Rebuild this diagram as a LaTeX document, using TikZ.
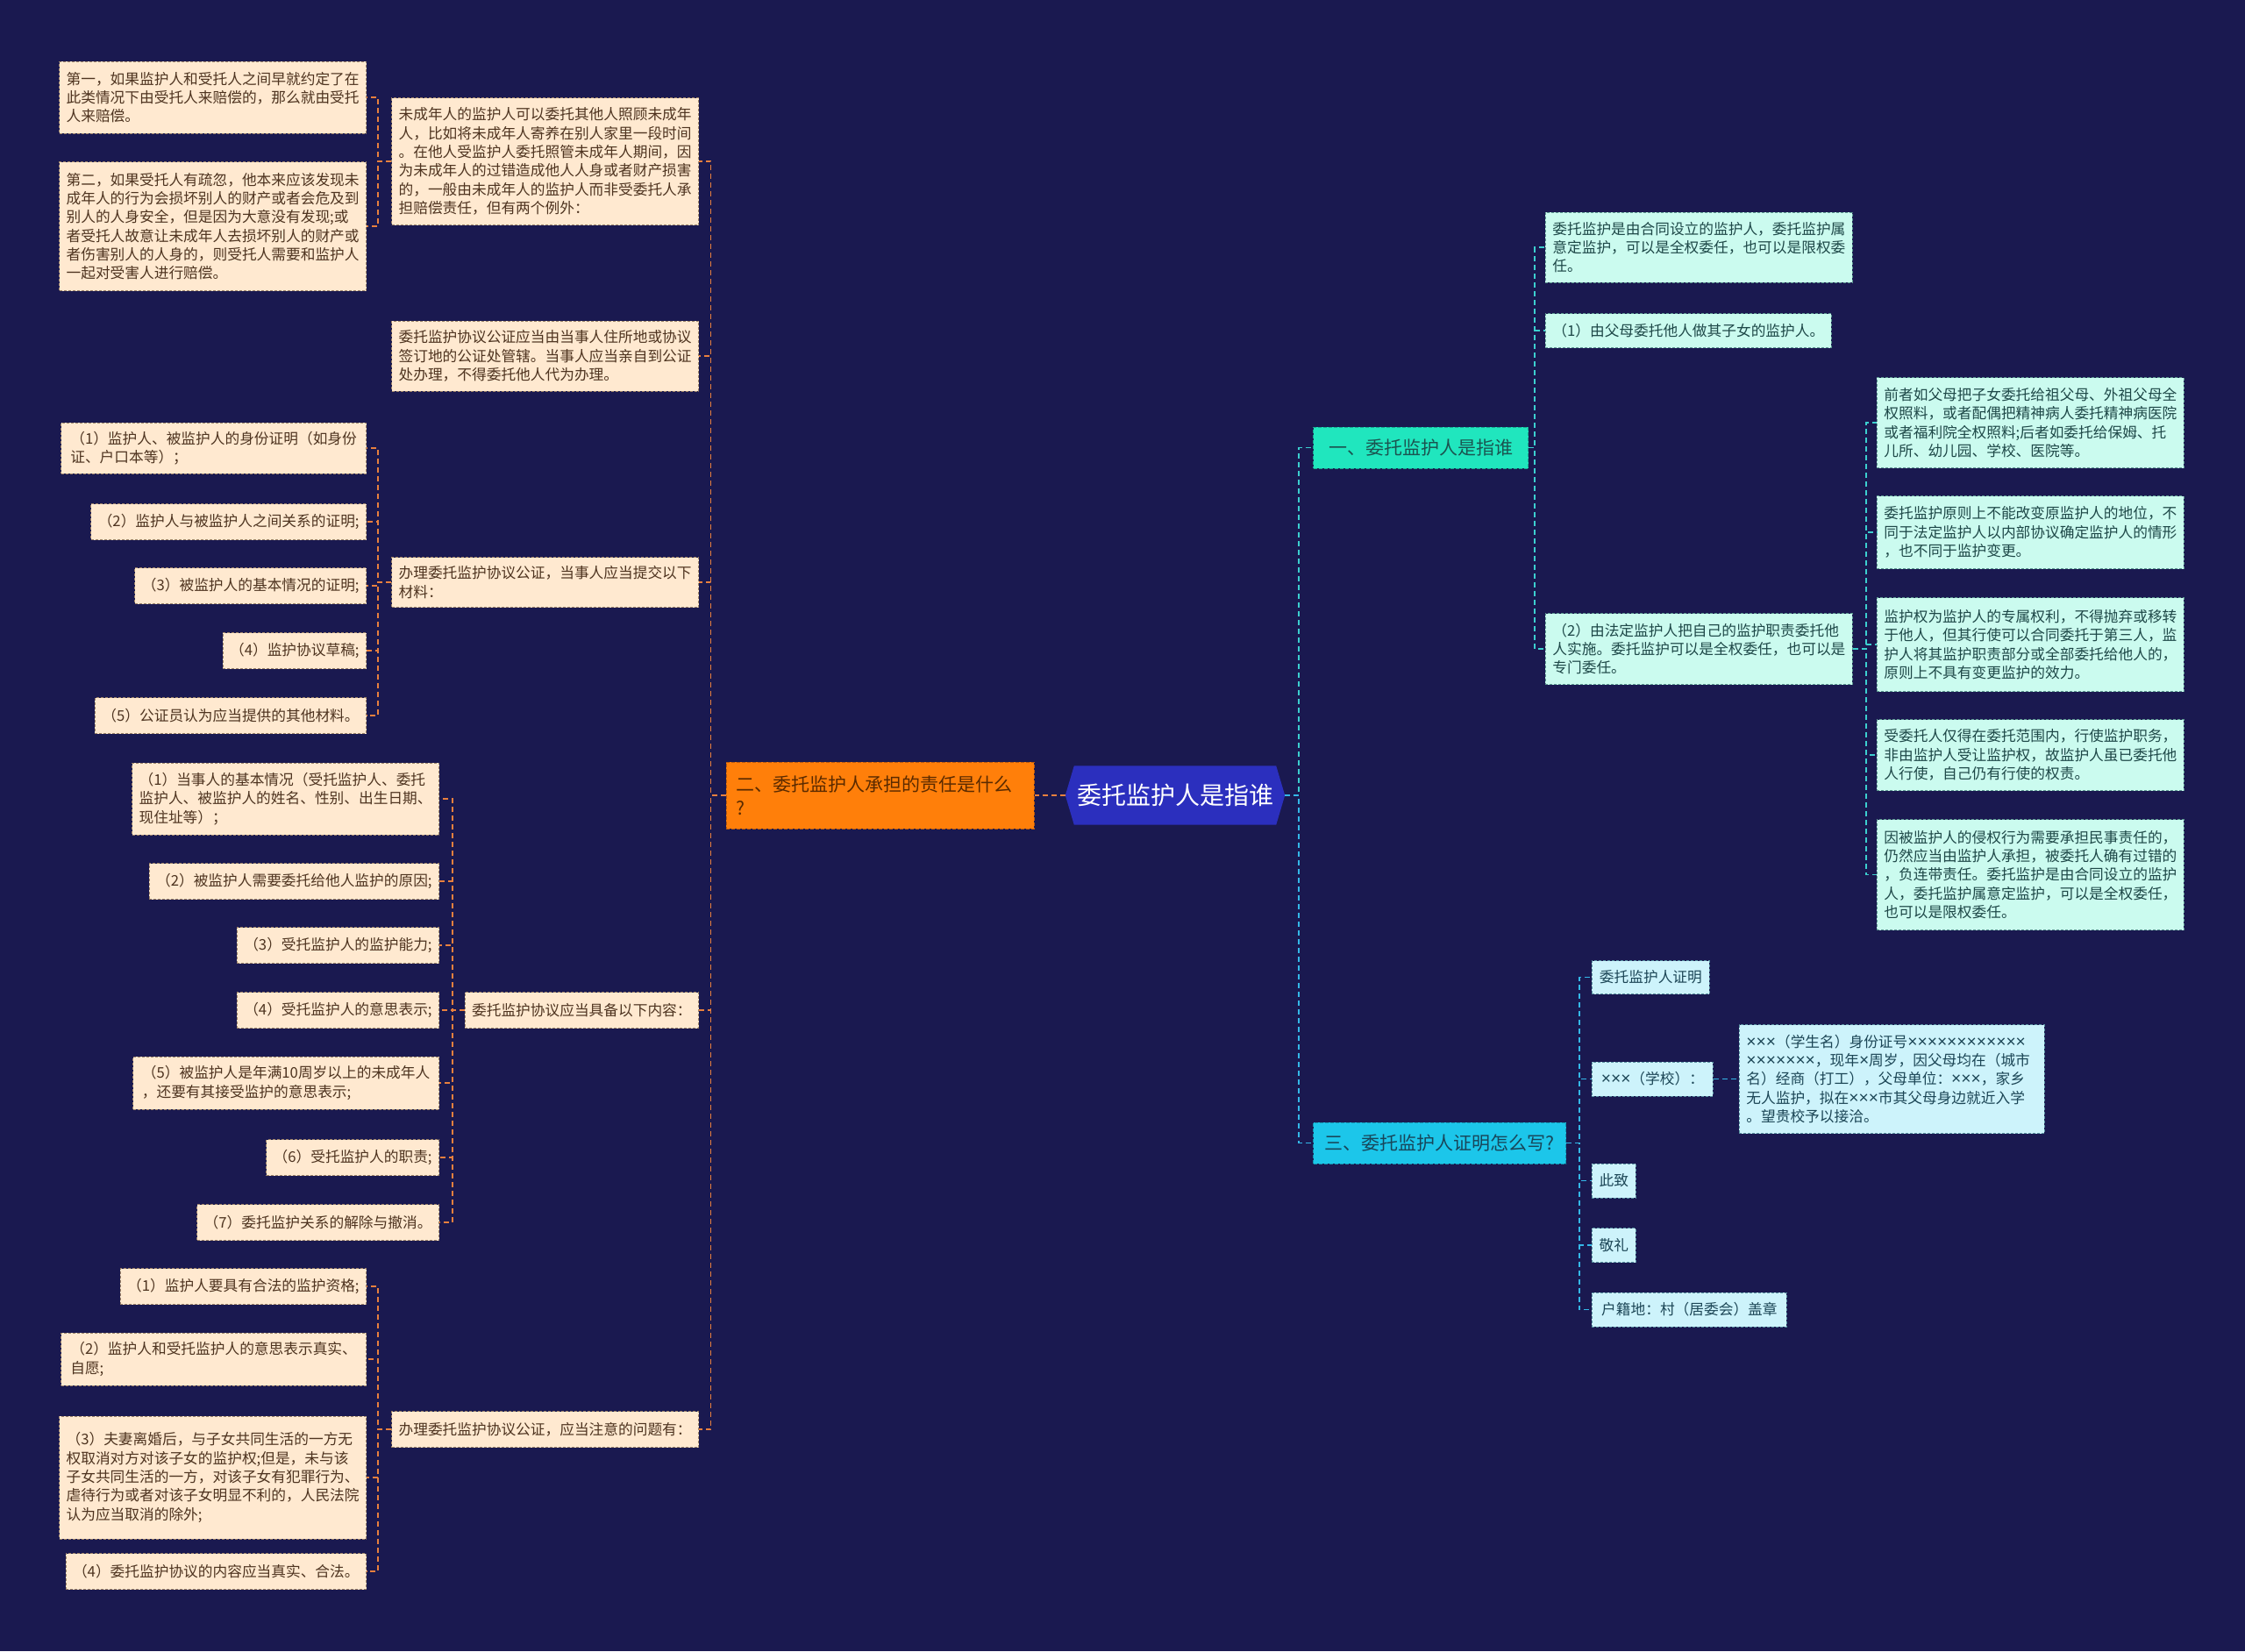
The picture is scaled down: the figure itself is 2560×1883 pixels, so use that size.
\documentclass[tikz,border=0pt]{standalone}
\usepackage{fontspec}
\setmainfont{Noto Sans CJK SC}
\newfontfamily\xfont[Scale=1.15]{Liberation Sans}
\newcommand{\xx}{{\xfont ×}}
\usetikzlibrary{backgrounds}
\definecolor{bgc}{HTML}{1A1950}
\definecolor{cream}{HTML}{FFE9D0}
\definecolor{creamtxt}{HTML}{4E3420}
\definecolor{creambd}{HTML}{9C8268}
\definecolor{mint}{HTML}{CBFBEF}
\definecolor{minttxt}{HTML}{1E4848}
\definecolor{mintbd}{HTML}{5C9890}
\definecolor{skyl}{HTML}{CDF3FB}
\definecolor{skytxt}{HTML}{1C4656}
\definecolor{skybd}{HTML}{5890A0}
\definecolor{orangec}{HTML}{FF7F0A}
\definecolor{orangebd}{HTML}{B85A10}
\definecolor{orangetxt}{HTML}{5A2A00}
\definecolor{tealc}{HTML}{20E6BE}
\definecolor{tealbd}{HTML}{18A890}
\definecolor{tealtxt}{HTML}{1B5450}
\definecolor{cyanc}{HTML}{1CC6EA}
\definecolor{cyanbd}{HTML}{1494B0}
\definecolor{cyantxt}{HTML}{18465A}
\definecolor{centerc}{HTML}{2B2FBE}
\definecolor{lline}{HTML}{E8803E}
\definecolor{tline}{HTML}{3CCFCF}
\definecolor{cline}{HTML}{34B8E8}
\begin{document}
\begin{tikzpicture}[x=1pt,y=-1pt,
  sz/.style 2 args={minimum width=#1pt, minimum height=#2pt},
  base/.style={rectangle, inner xsep=8pt, inner ysep=5pt, align=left, line width=0.8pt,
    dash pattern=on 3pt off 2pt, font=\fontsize{16.7pt}{21.3pt}\selectfont},
  leafL/.style={base, fill=cream, draw=creambd, text=creamtxt},
  leafM/.style={base, fill=mint, draw=mintbd, text=minttxt},
  leafS/.style={base, fill=skyl, draw=skybd, text=skytxt},
  lvl/.style={rectangle, inner xsep=10pt, inner ysep=5pt, align=left, line width=1pt,
    dash pattern=on 4pt off 2pt, font=\fontsize{21pt}{27pt}\selectfont},
  centerbox/.style={rectangle, inner sep=0pt, text=white, font=\fontsize{28pt}{34pt}\selectfont},
  lc/.style={draw=lline, line width=1.8pt, dash pattern=on 6pt off 4pt},
  tc/.style={draw=tline, line width=1.8pt, dash pattern=on 6pt off 4pt},
  cc/.style={draw=cline, line width=1.8pt, dash pattern=on 6pt off 4pt}
]
\useasboundingbox (0,0) rectangle (2560,1883);

% central
\node[centerbox, sz={250}{67}] (C) at (1340,907) {委托监护人是指谁};
\node[lvl, fill=orangec, draw=orangebd, text=orangetxt, sz={351}{76}, text width=329pt] (O) at (1003.5,907) {二、委托监护人承担的责任是什么\\?};

% left level 2
\node[leafL, sz={348}{145}, anchor=east] (L1) at (797,184) {未成年人的监护人可以委托其他人照顾未成年\\人，比如将未成年人寄养在别人家里一段时间\\。在他人受监护人委托照管未成年人期间，因\\为未成年人的过错造成他人人身或者财产损害\\的，一般由未成年人的监护人而非受委托人承\\担赔偿责任，但有两个例外：};
\node[leafL, sz={348}{80}, anchor=east] (L2) at (797,406) {委托监护协议公证应当由当事人住所地或协议\\签订地的公证处管辖。当事人应当亲自到公证\\处办理，不得委托他人代为办理。};
\node[leafL, sz={348}{57}, anchor=east] (L3) at (797,664) {办理委托监护协议公证，当事人应当提交以下\\材料：};
\node[leafL, sz={265}{41}, anchor=east] (L4) at (797,1152) {委托监护协议应当具备以下内容：};
\node[leafL, sz={348}{41}, anchor=east] (L5) at (797,1630) {办理委托监护协议公证，应当注意的问题有：};

% L1 children
\node[leafL, sz={348}{82}, anchor=east] (L1a) at (418,111) {第一，如果监护人和受托人之间早就约定了在\\此类情况下由受托人来赔偿的，那么就由受托\\人来赔偿。};
\node[leafL, sz={348}{147}, anchor=east] (L1b) at (418,258) {第二，如果受托人有疏忽，他本来应该发现未\\成年人的行为会损坏别人的财产或者会危及到\\别人的人身安全，但是因为大意没有发现;或\\者受托人故意让未成年人去损坏别人的财产或\\者伤害别人的人身的，则受托人需要和监护人\\一起对受害人进行赔偿。};

% L3 children
\node[leafL, sz={348}{58}, anchor=east] (L3a) at (418,511) {（1）监护人、被监护人的身份证明（如身份\\证、户口本等）；};
\node[leafL, sz={312}{41}, anchor=east] (L3b) at (418,595) {（2）监护人与被监护人之间关系的证明;};
\node[leafL, sz={261}{41}, anchor=east] (L3c) at (418,668) {（3）被监护人的基本情况的证明;};
\node[leafL, sz={162}{41}, anchor=east] (L3d) at (418,742) {（4）监护协议草稿;};
\node[leafL, sz={309}{41}, anchor=east] (L3e) at (418,816) {（5）公证员认为应当提供的其他材料。};

% L4 children
\node[leafL, sz={349}{82}, anchor=east] (L4a) at (501,911) {（1）当事人的基本情况（受托监护人、委托\\监护人、被监护人的姓名、性别、出生日期、\\现住址等）；};
\node[leafL, sz={328}{41}, anchor=east] (L4b) at (501,1005) {（2）被监护人需要委托给他人监护的原因;};
\node[leafL, sz={230}{41}, anchor=east] (L4c) at (501,1078) {（3）受托监护人的监护能力;};
\node[leafL, sz={230}{41}, anchor=east] (L4d) at (501,1152) {（4）受托监护人的意思表示;};
\node[leafL, sz={349}{60}, anchor=east] (L4e) at (501,1235) {（5）被监护人是年满10周岁以上的未成年人\\，还要有其接受监护的意思表示;};
\node[leafL, sz={196}{41}, anchor=east] (L4f) at (501,1320) {（6）受托监护人的职责;};
\node[leafL, sz={276}{41}, anchor=east] (L4g) at (501,1394) {（7）委托监护关系的解除与撤消。};

% L5 children
\node[leafL, sz={278}{41}, anchor=east] (L5a) at (418,1467) {（1）监护人要具有合法的监护资格;};
\node[leafL, sz={348}{60}, anchor=east] (L5b) at (418,1550) {（2）监护人和受托监护人的意思表示真实、\\自愿;};
\node[leafL, sz={348}{140}, anchor=east] (L5c) at (418,1685) {（3）夫妻离婚后，与子女共同生活的一方无\\权取消对方对该子女的监护权;但是，未与该\\子女共同生活的一方，对该子女有犯罪行为、\\虐待行为或者对该子女明显不利的，人民法院\\认为应当取消的除外;};
\node[leafL, sz={341}{41}, anchor=east] (L5d) at (418,1792) {（4）委托监护协议的内容应当真实、合法。};

% right level 1
\node[lvl, fill=tealc, draw=tealbd, text=tealtxt, sz={245}{47}, anchor=west] (R1) at (1497,510.5) {一、委托监护人是指谁};
\node[lvl, fill=cyanc, draw=cyanbd, text=cyantxt, sz={288}{47}, anchor=west] (R3) at (1497,1303.5) {三、委托监护人证明怎么写?};

% R1 children
\node[leafM, sz={349}{80}, anchor=west] (R1a) at (1762,282) {委托监护是由合同设立的监护人，委托监护属\\意定监护，可以是全权委任，也可以是限权委\\任。};
\node[leafM, sz={325}{39}, anchor=west] (R1b) at (1762,377) {（1）由父母委托他人做其子女的监护人。};
\node[leafM, sz={349}{81}, anchor=west] (R1c) at (1762,740) {（2）由法定监护人把自己的监护职责委托他\\人实施。委托监护可以是全权委任，也可以是\\专门委任。};

% R1c children
\node[leafM, sz={350}{103}, anchor=west] (R1c1) at (2140,482) {前者如父母把子女委托给祖父母、外祖父母全\\权照料，或者配偶把精神病人委托精神病医院\\或者福利院全权照料;后者如委托给保姆、托\\儿所、幼儿园、学校、医院等。};
\node[leafM, sz={350}{83}, anchor=west] (R1c2) at (2140,607) {委托监护原则上不能改变原监护人的地位，不\\同于法定监护人以内部协议确定监护人的情形\\，也不同于监护变更。};
\node[leafM, sz={350}{107}, anchor=west] (R1c3) at (2140,735) {监护权为监护人的专属权利，不得抛弃或移转\\于他人，但其行使可以合同委托于第三人，监\\护人将其监护职责部分或全部委托给他人的，\\原则上不具有变更监护的效力。};
\node[leafM, sz={350}{81}, anchor=west] (R1c4) at (2140,861) {受委托人仅得在委托范围内，行使监护职务，\\非由监护人受让监护权，故监护人虽已委托他\\人行使，自己仍有行使的权责。};
\node[leafM, sz={350}{126}, anchor=west] (R1c5) at (2140,997.5) {因被监护人的侵权行为需要承担民事责任的，\\仍然应当由监护人承担，被委托人确有过错的\\，负连带责任。委托监护是由合同设立的监护\\人，委托监护属意定监护，可以是全权委任，\\也可以是限权委任。};

% R3 children
\node[leafS, sz={134}{38}, anchor=west] (R3a) at (1815,1114.5) {委托监护人证明};
\node[leafS, sz={138}{39}, anchor=west] (R3b) at (1815,1230.5) {\xx\xx\xx（学校）：};
\node[leafS, sz={348}{124}, anchor=west, text width=332pt] (R3b1) at (1983,1230.5) {\xx\xx\xx（学生名）身份证号\xx\xx\xx\xx\xx\xx\xx\xx\xx\xx\xx\xx\\\xx\xx\xx\xx\xx\xx\xx，现年\xx 周岁，因父母均在（城市\\名）经商（打工），父母单位：\xx\xx\xx，家乡\\无人监护，拟在\xx\xx\xx 市其父母身边就近入学\\。望贵校予以接洽。};
\node[leafS, sz={50}{39}, anchor=west] (R3c) at (1815,1346.5) {此致};
\node[leafS, sz={50}{39}, anchor=west] (R3d) at (1815,1420) {敬礼};
\node[leafS, sz={222}{39}, anchor=west] (R3e) at (1815,1493.5) {户籍地：村（居委会）盖章};

% connectors left
\draw[lc] (C.west) -- (O.east);
\foreach \n in {L1,L2,L3,L4,L5} {\draw[lc] (O.west) -- ++(-17,0) |- (\n.east);}
\foreach \n in {L1a,L1b} {\draw[lc] (L1.west) -- ++(-15,0) |- (\n.east);}
\foreach \n in {L3a,L3b,L3c,L3d,L3e} {\draw[lc] (L3.west) -- ++(-15,0) |- (\n.east);}
\foreach \n in {L4a,L4b,L4c,L4d,L4e,L4f,L4g} {\draw[lc] (L4.west) -- ++(-14,0) |- (\n.east);}
\foreach \n in {L5a,L5b,L5c,L5d} {\draw[lc] (L5.west) -- ++(-15,0) |- (\n.east);}

% connectors right
\draw[tc] (C.east) -- ++(16,0) |- (R1.west);
\draw[cc] (C.east) -- ++(16,0) |- (R3.west);
\foreach \n in {R1a,R1b,R1c} {\draw[tc] (R1.east) -- ++(7,0) |- (\n.west);}
\foreach \n in {R1c1,R1c2,R1c3,R1c4,R1c5} {\draw[tc] (R1c.east) -- ++(15,0) |- (\n.west);}
\foreach \n in {R3a,R3b,R3c,R3d,R3e} {\draw[cc] (R3.east) -- ++(15,0) |- (\n.west);}
\draw[cc] (R3b.east) -- (R3b1.west);

\begin{scope}[on background layer]
\fill[bgc] (0,0) rectangle (2560,1883);
\fill[centerc] (C.west) -- ([xshift=10pt]C.north west) -- ([xshift=-10pt]C.north east) -- (C.east)
  -- ([xshift=-10pt]C.south east) -- ([xshift=10pt]C.south west) -- cycle;
\end{scope}
\end{tikzpicture}
\end{document}
